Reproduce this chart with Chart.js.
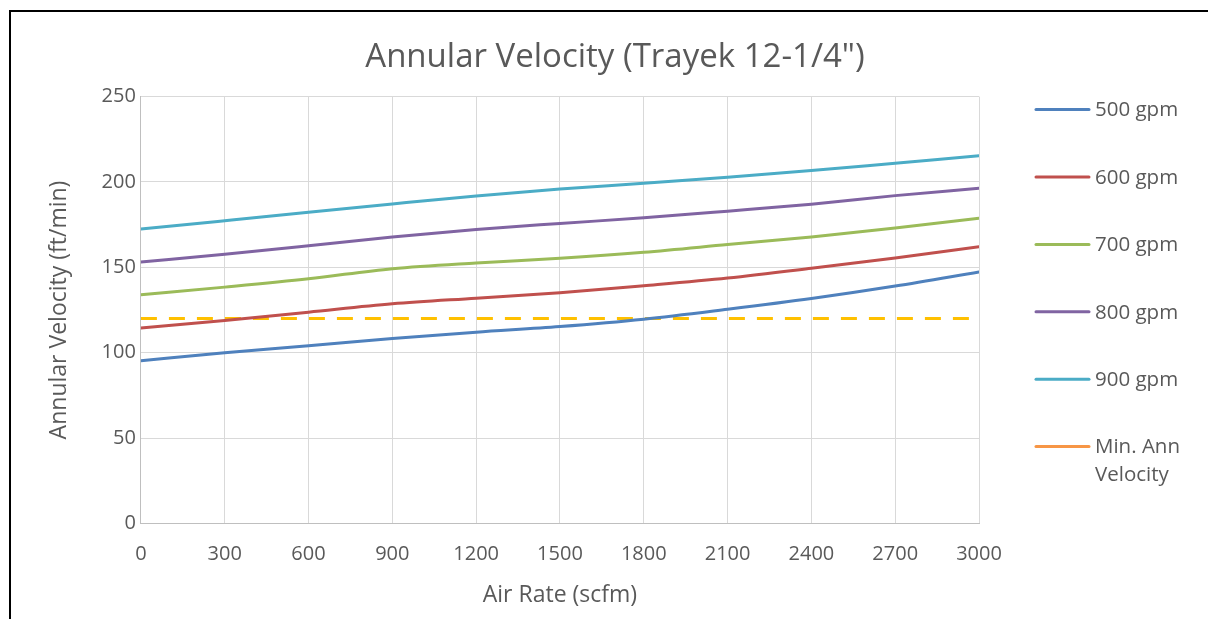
<!DOCTYPE html>
<html>
<head>
<meta charset="utf-8">
<script src="https://cdn.jsdelivr.net/npm/chart.js@4/dist/chart.umd.min.js"></script>
<style>
  html, body { margin: 0; padding: 0; background: #fff; overflow: hidden; width: 1208px; height: 619px; }
  #frame {
    position: absolute;
    left: 9px;
    top: 10px;
    width: 1197px;
    height: 607px;
    border-left: 2px solid #000;
    border-top: 2px solid #000;
  }
  #wrap { position: absolute; left: 0; top: 0; width: 1208px; height: 619px; }
</style>
</head>
<body>
<div id="frame"></div>
<div id="wrap"><canvas id="annularChart"></canvas></div>
<script>
const airRate = [0, 300, 600, 900, 1200, 1500, 1800, 2100, 2400, 2700, 3000];
const gpm500 = [95.3, 100.0, 104.0, 108.3, 112.0, 115.3, 119.6, 125.4, 131.7, 139.0, 147.3];
const gpm600 = [114.5, 118.8, 123.7, 128.6, 131.9, 135.1, 139.2, 143.7, 149.4, 155.5, 162.1];
const gpm700 = [133.9, 138.4, 143.3, 149.2, 152.6, 155.3, 158.8, 163.3, 167.8, 173.1, 178.8];
const gpm800 = [153.1, 157.6, 162.6, 167.8, 172.2, 175.7, 179.0, 182.9, 187.0, 192.0, 196.3];
const gpm900 = [172.4, 177.3, 182.2, 187.1, 191.8, 195.9, 199.2, 202.8, 206.7, 211.0, 215.3];
const minAnnVelocity = [120, 120, 120, 120, 120, 120, 120, 120, 120, 120, 120];
const seriesLabels = ["500 gpm", "600 gpm", "700 gpm", "800 gpm", "900 gpm", ["Min. Ann", "Velocity"]];

const textColor = "#595959";
Chart.defaults.font.family = "'Open Sans', sans-serif";
Chart.defaults.color = textColor;

function points(values) {
    return airRate.map(function (x, i) {
        return { x: x, y: values[i] };
    });
}

function lineSet(label, values, color) {
    return {
        label: label,
        data: points(values),
        borderColor: color,
        backgroundColor: color,
        legendColor: color,
        borderWidth: 3,
        pointRadius: 0,
        cubicInterpolationMode: "monotone",
        borderCapStyle: "round",
    };
}

// reserves a column on the right (not under the title) and draws an Excel-like legend in it
const sideLegend = {
    id: "sideLegend",
    beforeInit: function (chart) {
        const box = {
            position: "right",
            fullSize: false,
            weight: 0,
            options: {},
            width: 0,
            height: 0,
            left: 0,
            top: 0,
            right: 0,
            bottom: 0,
            isHorizontal: function () {
                return false;
            },
            update: function (maxWidth, maxHeight) {
                this.width = 229;
                this.height = maxHeight;
            },
            draw: function () {},
        };
        Chart.layouts.addBox(chart, box);
    },
    afterDraw: function (chart) {
        const ctx = chart.ctx;
        const area = chart.chartArea;
        const x0 = area.right + 57;
        ctx.save();
        ctx.font = "20.5px 'Open Sans', sans-serif";
        ctx.textBaseline = "middle";
        ctx.fillStyle = textColor;
        chart.data.datasets.forEach(function (ds, i) {
            const y = area.top + 13 + i * 67.4;
            ctx.strokeStyle = ds.legendColor;
            ctx.lineWidth = 3;
            ctx.lineCap = "round";
            ctx.setLineDash([]);
            ctx.beginPath();
            ctx.moveTo(x0, y);
            ctx.lineTo(x0 + 53, y);
            ctx.stroke();
            const lines = Array.isArray(ds.label) ? ds.label : [ds.label];
            lines.forEach(function (t, j) {
                ctx.fillText(t, x0 + 59, y + 1 + j * 28);
            });
        });
        ctx.restore();
    },
};

const minSet = lineSet(seriesLabels[5], minAnnVelocity, "#FFC000");
minSet.borderDash = [16, 12];
minSet.borderCapStyle = "butt";
minSet.legendColor = "#F79646";
minSet.cubicInterpolationMode = "default";
minSet.tension = 0;

new Chart(document.getElementById("annularChart"), {
    type: "line",
    data: {
        datasets: [
            lineSet(seriesLabels[0], gpm500, "#4F81BD"),
            lineSet(seriesLabels[1], gpm600, "#C0504D"),
            lineSet(seriesLabels[2], gpm700, "#9BBB59"),
            lineSet(seriesLabels[3], gpm800, "#8064A2"),
            lineSet(seriesLabels[4], gpm900, "#4BACC6"),
            minSet,
        ],
    },
    options: {
        responsive: true,
        maintainAspectRatio: false,
        animation: false,
        layout: {
            padding: { left: 22, right: 0, top: 0, bottom: 10 },
        },
        plugins: {
            legend: { display: false },
            tooltip: { enabled: false },
            title: {
                display: true,
                text: "Annular Velocity (Trayek 12-1/4\")",
                color: textColor,
                font: { size: 33, weight: "normal" },
                padding: { top: 38, bottom: 19 },
            },
        },
        scales: {
            x: {
                type: "linear",
                min: 0,
                max: 3000,
                ticks: {
                    stepSize: 300,
                    padding: 19,
                    color: textColor,
                    font: { size: 20 },
                    maxRotation: 0,
                    callback: function (value) {
                        return String(value);
                    },
                },
                grid: { color: "#d9d9d9", lineWidth: 1, drawTicks: false },
                border: { color: "#bfbfbf", width: 1 },
                title: {
                    display: true,
                    text: "Air Rate (scfm)",
                    color: textColor,
                    font: { size: 23 },
                    padding: { top: -4, bottom: 0 },
                },
            },
            y: {
                min: 0,
                max: 250,
                ticks: {
                    stepSize: 50,
                    padding: 5,
                    color: textColor,
                    font: { size: 20 },
                },
                grid: { color: "#d9d9d9", lineWidth: 1, drawTicks: false },
                border: { color: "#bfbfbf", width: 1 },
                title: {
                    display: true,
                    text: "Annular Velocity (ft/min)",
                    color: textColor,
                    font: { size: 23 },
                    padding: { top: 24, bottom: 23 },
                },
            },
        },
    },
    plugins: [sideLegend],
});
</script>
</body>
</html>
